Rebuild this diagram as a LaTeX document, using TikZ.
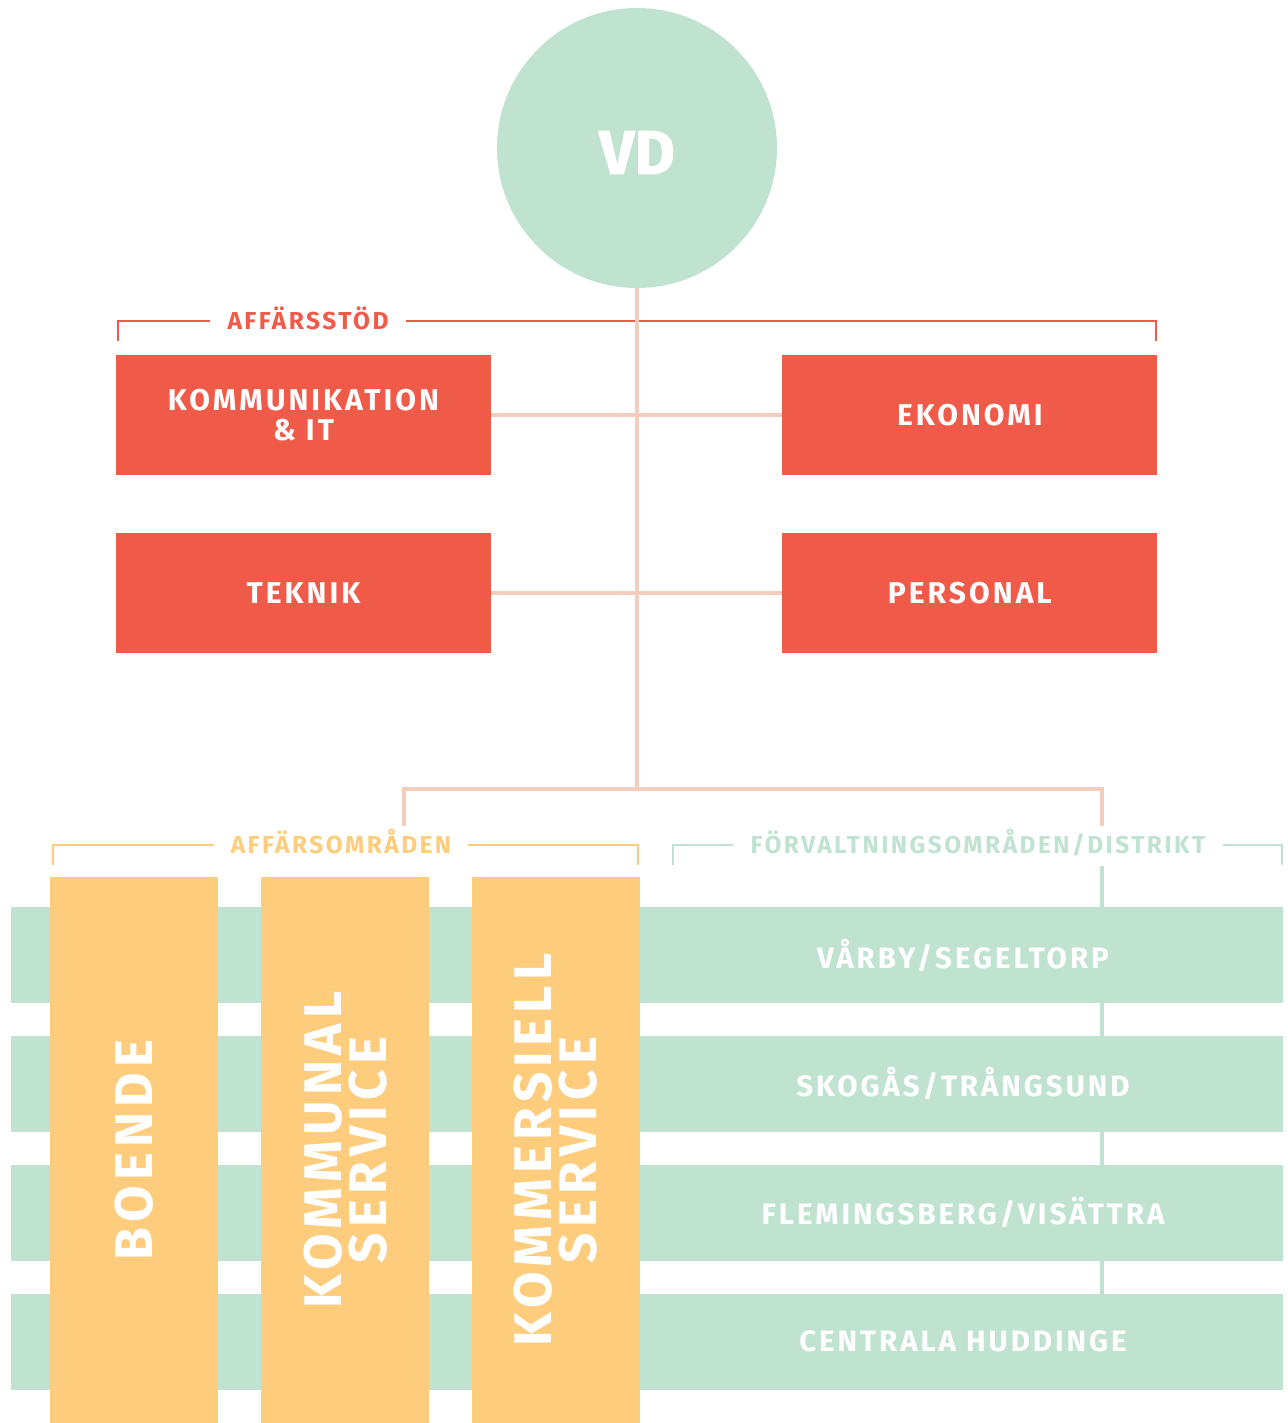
\documentclass[tikz,border=0pt]{standalone}
\usepackage{fontspec}
\usepackage{xcolor}
\usepackage{tikz}
\usetikzlibrary{calc, positioning, backgrounds}
\newfontfamily\orgfont[LetterSpace=10]{Fira Sans}
\newfontfamily\vdfont[BoldFeatures={FakeBold=1.5}]{Fira Sans}
\definecolor{vdgreen}{HTML}{BFE3D0}
\definecolor{stodred}{HTML}{F05A48}
\definecolor{omryellow}{HTML}{FDCD7D}
\definecolor{linksalmon}{HTML}{F2CDBE}

\begin{document}
\begin{tikzpicture}[x=1pt, y=-1pt,
 stodbox/.style={fill=stodred, minimum width=375pt, minimum height=120pt, inner sep=0pt,
  text=white, align=center, font=\orgfont\bfseries\fontsize{30}{30}\selectfont},
 distbar/.style={fill=vdgreen, minimum width=1272pt, minimum height=96pt, inner sep=0pt},
 distlabel/.style={text=white, font=\orgfont\bfseries\fontsize{29.5}{30}\selectfont},
 omrbar/.style={fill=omryellow, minimum width=168pt, minimum height=546pt, inner sep=0pt},
 omrlabel/.style={text=white, rotate=90, align=center, font=\orgfont\bfseries\fontsize{53}{45}\selectfont},
 head/.style={inner xsep=17pt, inner ysep=0pt, text height=17pt, text depth=0pt,
  font=\orgfont\bfseries\fontsize{24.5}{25}\selectfont},
 bracket/.style={line width=2pt},
 link/.style={draw=linksalmon, line width=4pt},
 ]
 \useasboundingbox (0,0) rectangle (1287,1423);

 % top
 \node[circle, fill=vdgreen, minimum size=280pt, inner sep=0pt, text=white,
  text height=52pt, text depth=0pt,
  font=\vdfont\bfseries\fontsize{62}{62}\selectfont] (vd) at (637,148) {VD};

 % affarsstod
 \node[stodbox] (kommit) at (303.5,415) {KOMMUNIKATION\\\& IT};
 \node[stodbox, right=291pt of kommit] (ekonomi) {EKONOMI};
 \node[stodbox, below=58pt of kommit] (teknik) {TEKNIK};
 \node[stodbox, below=58pt of ekonomi] (personal) {PERSONAL};
 \node[head, text=stodred] (stodhead) at (308,321) {AFFÄRSSTÖD};

 \draw[bracket, draw=stodred] (stodhead.west) -| ($(kommit.north west)+(2,-14)$);
 \draw[bracket, draw=stodred] (stodhead.east) -| ($(ekonomi.north east)+(-2,-14)$);

 \coordinate (trunkend) at (637,789);
 \coordinate (omrdrop) at (404,826);
 \coordinate (distdrop) at (1102,826);
 \draw[link] (vd) -- (trunkend);
 \draw[link] (kommit) -- (ekonomi);
 \draw[link] (teknik) -- (personal);
 \draw[link] (omrdrop) |- (trunkend) -| (distdrop);

 % distrikt
 \node[distbar, label={[distlabel, xshift=316pt]center:VÅRBY/SEGELTORP}] (varby) at (647,955) {};
 \node[distbar, below=32.5pt of varby, label={[distlabel, xshift=316pt]center:SKOGÅS/TRÅNGSUND}] (skogas) {};
 \node[distbar, below=32.5pt of skogas, label={[distlabel, xshift=316pt]center:FLEMINGSBERG/VISÄTTRA}] (flemingsberg) {};
 \node[distbar, below=32.5pt of flemingsberg, label={[distlabel, xshift=316pt]center:CENTRALA HUDDINGE}] (centrala) {};

 \node[head, text=vdgreen] (disthead) at (978,845) {FÖRVALTNINGSOMRÅDEN/DISTRIKT};
 \draw[bracket, draw=vdgreen] (disthead.west) -| (673,865);
 \draw[bracket, draw=vdgreen] (disthead.east) -| (1282,865);
 \coordinate (distfork) at (1102,866);
 \begin{scope}[on background layer]
  \draw[line width=4pt, draw=vdgreen] (distfork) -- (distfork |- centrala.north);
 \end{scope}

 % affarsomraden
 \node[omrbar, label={[omrlabel]center:BOENDE}] (boende) at (134,1150) {};
 \node[omrbar, right=43pt of boende, label={[omrlabel]center:KOMMUNAL\\SERVICE}] (kommunal) {};
 \node[omrbar, right=42pt of kommunal, label={[omrlabel]center:KOMMERSIELL\\SERVICE}] (kommersiell) {};

 \node[head, text=omryellow] (omrhead) at (341,845) {AFFÄRSOMRÅDEN};
 \draw[bracket, draw=omryellow] (omrhead.west) -| ($(boende.north west)+(3,-12)$);
 \draw[bracket, draw=omryellow] (omrhead.east) -| ($(kommersiell.north east)+(-2,-12)$);

\end{tikzpicture}
\end{document}
